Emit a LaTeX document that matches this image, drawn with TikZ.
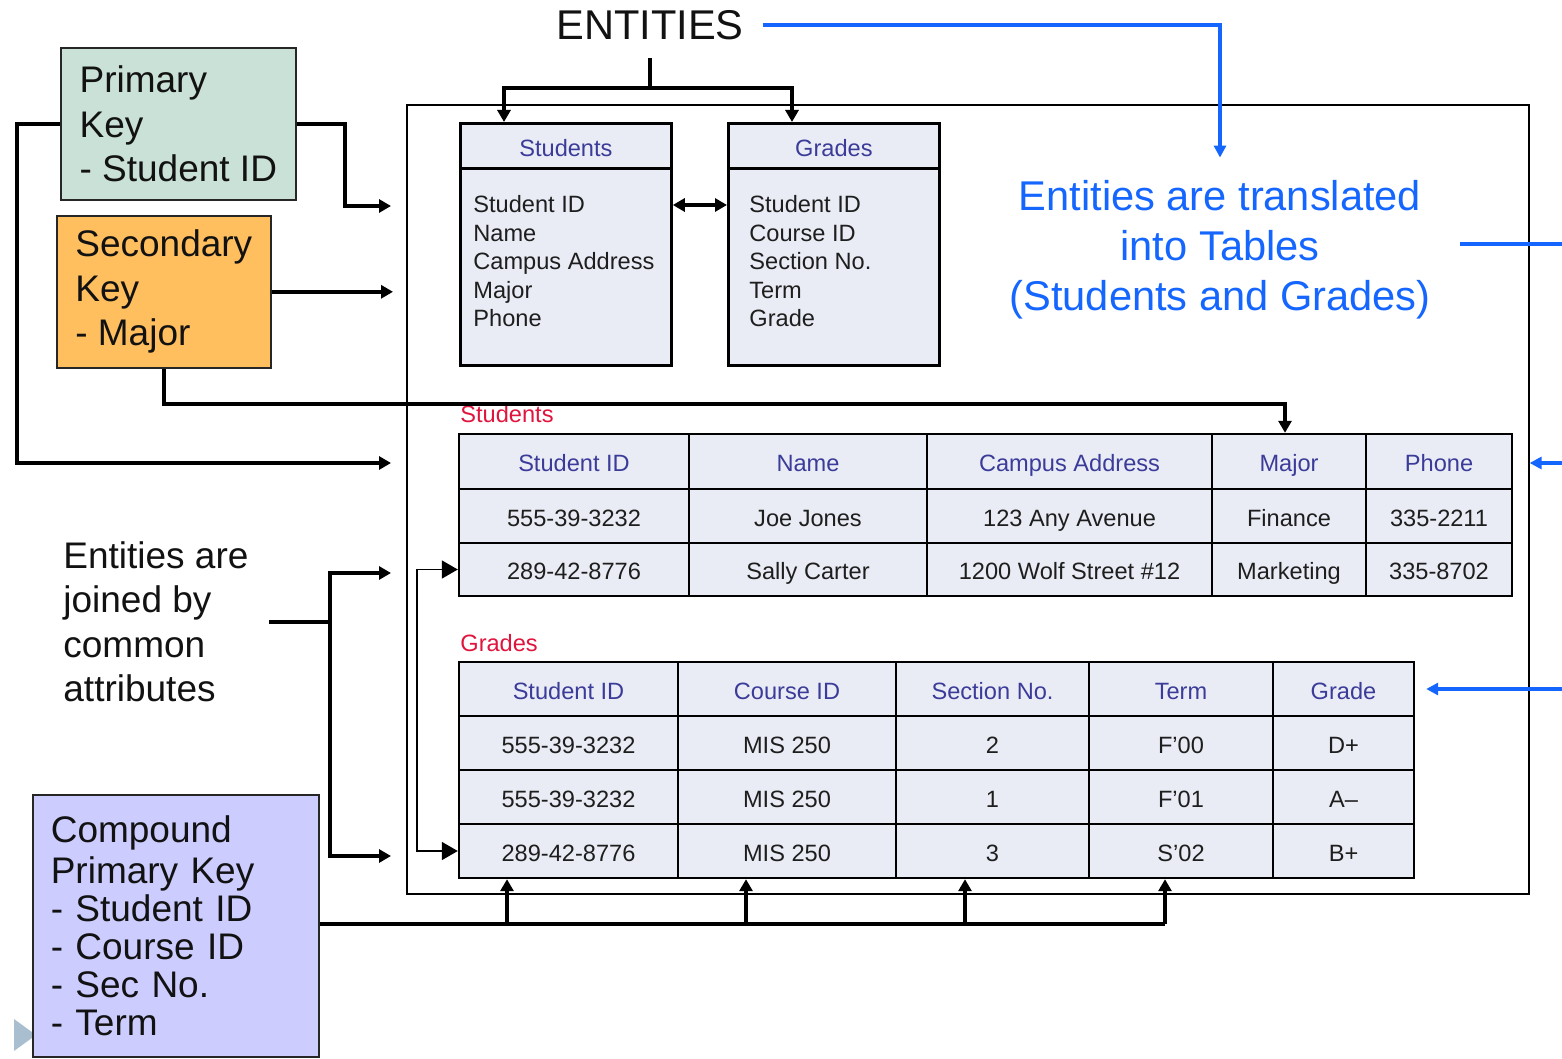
\documentclass[tikz,border=0pt]{standalone}
\usepackage{fontspec}
\setmainfont{Liberation Sans}
\usetikzlibrary{arrows.meta}
\definecolor{pkfill}{HTML}{C9E1D7}
\definecolor{skfill}{HTML}{FFBF5F}
\definecolor{ckfill}{HTML}{CCCCFF}
\definecolor{tabfill}{HTML}{E9ECF5}
\definecolor{hdr}{HTML}{3B3B99}
\definecolor{redlbl}{HTML}{E0143C}
\definecolor{myblue}{HTML}{1466FF}
\definecolor{datatext}{HTML}{1E1E1E}
\definecolor{navtri}{HTML}{A9BFCF}
\newcommand\kfont{\fontsize{18.5}{22.25}\selectfont}
\newcommand\cfont{\fontsize{18.5}{19}\selectfont}
\newcommand\tfont{\fontsize{11.8}{14.25}\selectfont}
\newcommand\tcell[7]{% style, name, x1, y1, x2, y2, text
  \pgfmathsetmacro\cw{(#5-#3)/2}\pgfmathsetmacro\ch{(#6-#4)/2}%
  \node[#1,minimum width=\cw pt,minimum height=\ch pt] (#2) at ({(#3+#5)/2},{(#4+#6)/2}) {#7};}
\begin{document}
\begin{tikzpicture}[x=0.5pt,y=-0.5pt,
  conn/.style={line width=2pt,-{Triangle[length=6pt,width=6.5pt]}},
  lwtwo/.style={line width=2pt},
  bconn/.style={line width=1.8pt,draw=myblue,-{Triangle[length=6pt,width=6pt]}},
  bline/.style={line width=1.8pt,draw=myblue},
  thinarr/.style={line width=0.8pt,{Triangle[length=8pt,width=9pt]}-{Triangle[length=8pt,width=9pt]}},
  cell/.style={draw,line width=1.2pt,fill=tabfill,inner sep=0pt,font=\tfont,text=datatext,text height=12pt,text depth=2pt},
  hcell/.style={cell,text=hdr},
  keybox/.style={draw=black!85,line width=0.8pt,anchor=north west,align=left,text=black!93},
  ebox/.style={draw,line width=1.4pt,fill=tabfill,inner sep=0pt,anchor=north west},
  etext/.style={anchor=north west,inner sep=0pt,align=left,font=\tfont,text=datatext},
  rlabel/.style={anchor=west,inner sep=0pt,font=\tfont,text=redlbl}
]
\useasboundingbox (0,0) rectangle (1562,1059);

% navigation triangle
\fill[navtri] (14,1019) -- (36,1035) -- (14,1051) -- cycle;

% frame
\node[draw,line width=0.8pt,anchor=north west,inner sep=0pt,minimum width=561pt,minimum height=394.5pt] (frame) at (406,104) {};

% key boxes
\node[keybox,fill=pkfill,font=\kfont,inner xsep=0pt,minimum width=117.5pt,minimum height=76pt] (pk) at (60,47) {Primary\\Key\\- Student ID};
\node[keybox,fill=skfill,font=\kfont,inner xsep=0pt,minimum width=107pt,minimum height=76pt] (sk) at (56,215) {Secondary\\Key\\- Major};
\node[keybox,fill=ckfill,font=\cfont,inner xsep=9pt,text width=125pt,minimum height=131pt] (ck) at (32,794) {Compound\\[1.5pt]Primary Key\\- Student ID\\- Course ID\\- Sec No.\\- Term};

% joined text
\node[anchor=west,align=left,font=\kfont,text=black!93,inner sep=0pt] (join) at (63,622) {Entities are\\joined by\\common\\attributes};

% ENTITIES
\node[font=\fontsize{20.8}{25}\selectfont,text=black!93] (ent) at (650,25) {ENTITIES};

% blue translated text
\node[align=center,font=\fontsize{20.8}{25}\selectfont,text=myblue] (trans) at (1220,250) {Entities are translated\\into Tables\\(Students and Grades)};

% entity boxes
\node[ebox,minimum width=105.5pt,minimum height=22.5pt] (eSh) at (459,122) {};
\node[font=\tfont,text=hdr] (eSl) at ([yshift=-1pt]eSh.center) {Students};
\node[ebox,minimum width=105.5pt,minimum height=98.5pt] (eSb) at (459,167) {};
\node[etext] (eSt) at (473,195) {Student ID\\Name\\Campus Address\\Major\\Phone};
\node[ebox,minimum width=105.5pt,minimum height=22.5pt] (eGh) at (727,122) {};
\node[font=\tfont,text=hdr] (eGl) at ([yshift=-1pt]eGh.center) {Grades};
\node[ebox,minimum width=105.5pt,minimum height=98.5pt] (eGb) at (727,167) {};
\node[etext] (eGt) at (749,195) {Student ID\\Course ID\\Section No.\\Term\\Grade};

% red labels
\node[rlabel] (sLbl) at (460,414) {Students};
\node[rlabel] (gLbl) at (460,643) {Grades};

% Students table
\tcell{hcell}{s11}{459}{434}{689}{489}{Student ID}
\tcell{hcell}{s12}{689}{434}{927}{489}{Name}
\tcell{hcell}{s13}{927}{434}{1212}{489}{Campus Address}
\tcell{hcell}{s14}{1212}{434}{1366}{489}{Major}
\tcell{hcell}{s15}{1366}{434}{1512}{489}{Phone}
\tcell{cell}{s21}{459}{489}{689}{543}{555-39-3232}
\tcell{cell}{s22}{689}{489}{927}{543}{Joe Jones}
\tcell{cell}{s23}{927}{489}{1212}{543}{123 Any Avenue}
\tcell{cell}{s24}{1212}{489}{1366}{543}{Finance}
\tcell{cell}{s25}{1366}{489}{1512}{543}{335-2211}
\tcell{cell}{s31}{459}{543}{689}{596}{289-42-8776}
\tcell{cell}{s32}{689}{543}{927}{596}{Sally Carter}
\tcell{cell}{s33}{927}{543}{1212}{596}{1200 Wolf Street \#12}
\tcell{cell}{s34}{1212}{543}{1366}{596}{Marketing}
\tcell{cell}{s35}{1366}{543}{1512}{596}{335-8702}

% Grades table
\tcell{hcell}{g11}{459}{662}{678}{716}{Student ID}
\tcell{hcell}{g12}{678}{662}{896}{716}{Course ID}
\tcell{hcell}{g13}{896}{662}{1089}{716}{Section No.}
\tcell{hcell}{g14}{1089}{662}{1273}{716}{Term}
\tcell{hcell}{g15}{1273}{662}{1414}{716}{Grade}
\tcell{cell}{g21}{459}{716}{678}{770}{555-39-3232}
\tcell{cell}{g22}{678}{716}{896}{770}{MIS 250}
\tcell{cell}{g23}{896}{716}{1089}{770}{2}
\tcell{cell}{g24}{1089}{716}{1273}{770}{F’00}
\tcell{cell}{g25}{1273}{716}{1414}{770}{D+}
\tcell{cell}{g31}{459}{770}{678}{824}{555-39-3232}
\tcell{cell}{g32}{678}{770}{896}{824}{MIS 250}
\tcell{cell}{g33}{896}{770}{1089}{824}{1}
\tcell{cell}{g34}{1089}{770}{1273}{824}{F’01}
\tcell{cell}{g35}{1273}{770}{1414}{824}{A–}
\tcell{cell}{g41}{459}{824}{678}{878}{289-42-8776}
\tcell{cell}{g42}{678}{824}{896}{878}{MIS 250}
\tcell{cell}{g43}{896}{824}{1089}{878}{3}
\tcell{cell}{g44}{1089}{824}{1273}{878}{S’02}
\tcell{cell}{g45}{1273}{824}{1414}{878}{B+}

% coordinates
\coordinate (entfoot) at (650,58);
\coordinate (ej) at (650,88);
\coordinate (xa) at (504,0);
\coordinate (xb) at (792,0);
\coordinate (t1) at (391,206);
\coordinate (t2) at (391,463);
\coordinate (t3) at (393,291);
\coordinate (t4) at (391,573);
\coordinate (t5) at (391,856);
\coordinate (jb) at (330,622);
\coordinate (rb1) at (1562,244);
\coordinate (rb2) at (1562,463);
\coordinate (rb3) at (1562,689);
\coordinate (r205) at (0,205);
\coordinate (cb) at (1165,924);
\coordinate (a1) at (507,924);
\coordinate (a2) at (746,924);
\coordinate (a3) at (965,924);
\coordinate (a4) at (1165,924);

% ENTITIES connectors
\draw[lwtwo] (entfoot) -- (ej);
\draw[conn] (ej) -| (eSh.north -| xa);
\draw[conn] (ej) -| (eGh.north -| xb);
\draw[line width=2pt,{Triangle[length=6pt,width=6.5pt]}-{Triangle[length=6pt,width=6.5pt]}] (eSb.east |- r205) -- (eGb.west |- r205);

% blue connectors
\draw[bconn] ([xshift=6pt]ent.east) -| ([yshift=8pt]trans.north);
\draw[bline] ([xshift=11pt]trans.east |- rb1) -- (rb1);
\draw[bconn] (rb2) -- (frame.east |- rb2);
\draw[bconn,shorten >=5.5pt] (rb3) -- (g15.east |- rb3);

% key connectors
\draw[conn] (pk.east) -- ++(48,0) |- (t1);
\draw[conn] (pk.west) -- ++(-43,0) |- (t2);
\draw[conn] (sk.east) -- (sk.east -| t3);
\draw[conn] (sk.south) -- ++(0,35) -| ([xshift=-2pt]s14.north);

% joined connectors
\draw[lwtwo] ([xshift=10pt]join.east |- jb) -- (jb);
\draw[conn] (jb) |- (t4);
\draw[conn] (jb) |- (t5);

% thin inner join arrow
\draw[thinarr] (s31.west) -- ++(-41,0) |- (g41.west);

% compound connectors
\draw[lwtwo] (ck.east |- cb) -- (cb);
\draw[conn] (a1) -- (g41.south -| a1);
\draw[conn] (a2) -- (g42.south -| a2);
\draw[conn] (a3) -- (g43.south -| a3);
\draw[conn] (a4) -- (g44.south -| a4);
\end{tikzpicture}
\end{document}
